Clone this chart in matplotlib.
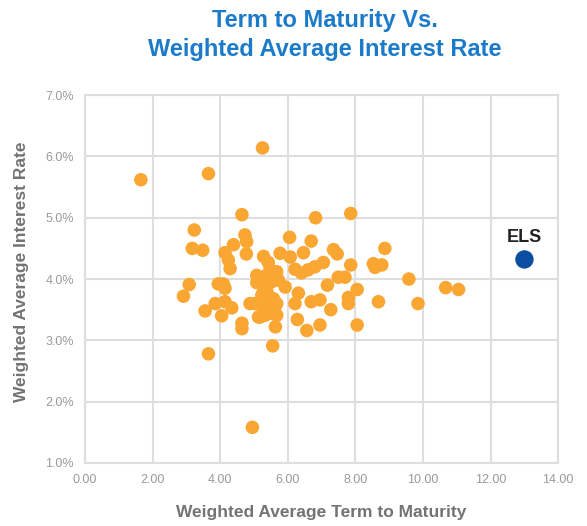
import matplotlib
matplotlib.use("Agg")
import matplotlib.pyplot as plt
from matplotlib.ticker import FuncFormatter

plt.rcParams['font.family'] = ['Liberation Sans', 'DejaVu Sans']

# Peer data: weighted average term to maturity (years) and interest rate (%)
term = [1.65, 3.65, 5.25, 4.95, 3.65, 5.55,
        3.23, 3.17, 3.48, 3.08, 2.91, 3.55,
        3.94, 4.09, 4.14, 3.85, 4.14, 4.34, 4.04,
        4.64, 4.64, 4.64, 4.73, 4.78, 4.39, 4.14, 4.24, 4.29, 4.77,
        4.88, 5.13,
        5.08, 5.08, 5.28, 5.42, 5.77, 6.07, 6.46, 6.05, 6.69, 6.82, 7.86,
        5.18, 5.47, 5.67, 5.72, 5.92,
        5.28, 5.38, 5.23, 5.57, 5.42, 5.03,
        5.62, 5.28, 5.52, 5.18, 5.33, 5.67, 5.67,
        6.31, 6.21, 6.69, 6.95,
        5.63, 6.28, 6.56, 6.95,
        6.21, 6.40, 6.60, 6.80, 7.05,
        7.35, 7.46, 7.49, 7.69, 7.17, 7.27, 7.79, 7.79,
        8.05, 8.05, 7.86, 8.53, 8.78, 8.58, 8.87, 8.68,
        9.58, 9.85, 10.67, 11.05, 5.35, 5.50]
rate = [5.62, 5.72, 6.14, 1.58, 2.78, 2.91,
        4.80, 4.50, 4.47, 3.91, 3.72, 3.48,
        3.92, 3.92, 3.85, 3.60, 3.63, 3.53, 3.40,
        3.28, 3.19, 5.05, 4.72, 4.61, 4.56, 4.43, 4.31, 4.17, 4.41,
        3.60, 3.38,
        4.06, 3.94, 4.37, 4.27, 4.42, 4.36, 4.43, 4.68, 4.62, 5.00, 5.07,
        4.01, 4.15, 4.12, 3.98, 3.87,
        3.87, 3.79, 3.74, 3.68, 3.63, 3.60,
        3.55, 3.49, 3.44, 3.38, 3.41, 3.41, 3.60,
        3.77, 3.60, 3.63, 3.66,
        3.22, 3.34, 3.16, 3.25,
        4.16, 4.10, 4.15, 4.20, 4.27,
        4.48, 4.41, 4.03, 4.03, 3.90, 3.50, 3.70, 3.60,
        3.83, 3.25, 4.23, 4.25, 4.23, 4.19, 4.50, 3.63,
        4.00, 3.60, 3.86, 3.83, 4.05, 3.95]

els_term = [13.0]
els_rate = [4.32]
els_label = "ELS"

title_text = "Term to Maturity Vs.\nWeighted Average Interest Rate"
x_label = "Weighted Average Term to Maturity"
y_label = "Weighted Average Interest Rate"
x_ticks = [0, 2, 4, 6, 8, 10, 12, 14]
y_ticks = [1, 2, 3, 4, 5, 6, 7]

fig = plt.figure(figsize=(5.87, 5.26), dpi=100)
ax = fig.add_axes([0.145, 0.120, 0.806, 0.699])

grid_color = '#DEDEDE'
ax.scatter(term, rate, s=95, color='#F9A633', edgecolors='none', zorder=3)
ax.scatter(els_term, els_rate, s=175, color='#0B4EA2', edgecolors='none', zorder=4)
ax.annotate(els_label, (els_term[0], els_rate[0]), xytext=(0, 10), textcoords='offset points',
            ha='center', va='bottom', fontsize=13, fontweight='bold', color='#222222')

ax.set_xlim(0, 14)
ax.set_ylim(1, 7)
ax.set_xticks(x_ticks)
ax.set_yticks(y_ticks)
ax.xaxis.set_major_formatter(FuncFormatter(lambda v, p: f"{v:.2f}"))
ax.yaxis.set_major_formatter(FuncFormatter(lambda v, p: f"{v:.1f}%"))
ax.tick_params(axis='both', length=0, labelsize=9, labelcolor='#9A9A9A', pad=8)
ax.grid(True, color=grid_color, linewidth=1.5, zorder=0)
ax.set_axisbelow(True)
for sp in ax.spines.values():
    sp.set_color(grid_color)
    sp.set_linewidth(1.5)

ax.set_xlabel(x_label, fontsize=12.5, fontweight='bold', color='#737373', labelpad=14)
ax.set_ylabel(y_label, fontsize=12.5, fontweight='bold', color='#737373', labelpad=10)
ax.yaxis.set_label_coords(-0.118, 0.52)

fig.text(0.553, 0.982, title_text, ha='center', va='top', fontsize=17, fontweight='bold',
         color='#1B7BC8', linespacing=1.3)

fig.savefig("out.png", dpi=100)
